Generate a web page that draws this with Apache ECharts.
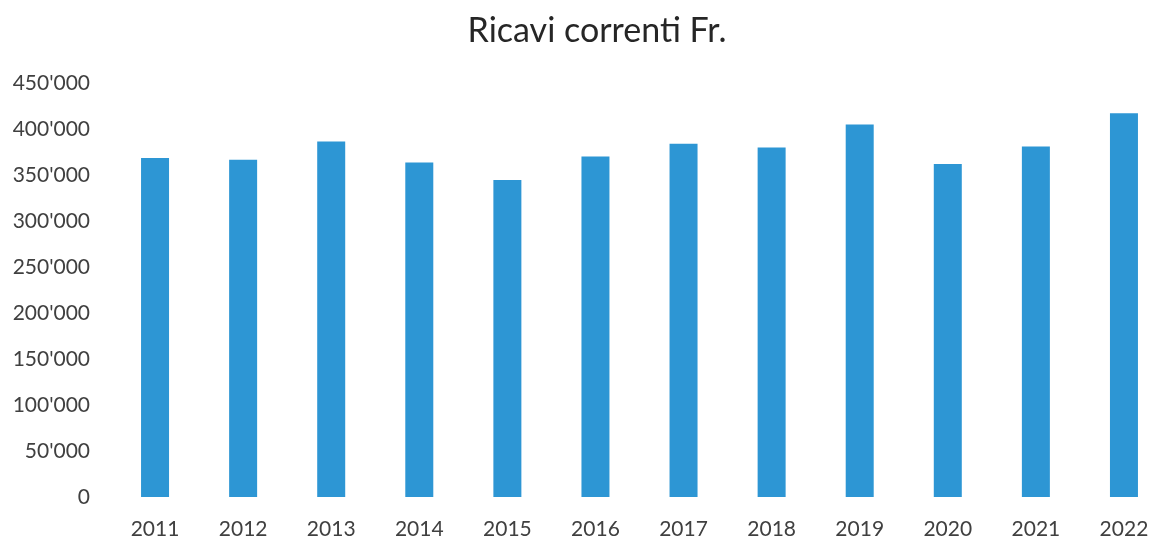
<!DOCTYPE html>
<html>
<head>
<meta charset="utf-8">
<script src="https://cdn.jsdelivr.net/npm/echarts@6/dist/echarts.min.js"></script>
<style>
  html, body { margin: 0; padding: 0; background: #ffffff; width: 1150px; height: 541px; overflow: hidden; }
  /* plot area runs slightly past the right edge of the page, so the last column sits near the border */
  #chart { width: 1168px; height: 541px; }
</style>
</head>
<body>
<div id="chart"></div>
<script>
// Current revenue per year, in Swiss francs
const years = ['2011', '2012', '2013', '2014', '2015', '2016', '2017', '2018', '2019', '2020', '2021', '2022'];
const revenues = [368500, 366500, 386500, 363500, 344500, 370000, 384000, 380000, 405000, 362000, 381000, 417000];
const chartTitle = 'Ricavi correnti Fr.';

// Swiss-style thousands separator: 450'000
function fmtThousands(v) {
  return String(v).replace(/\B(?=(\d{3})+(?!\d))/g, "'");
}

const chart = echarts.init(document.getElementById('chart'));
chart.setOption({
  animation: false,
  backgroundColor: '#ffffff',
  title: {
    text: chartTitle,
    left: 592,
    textAlign: 'center',
    top: 9,
    textStyle: {
      fontFamily: 'Lato',
      fontWeight: 'normal',
      fontSize: 34,
      color: '#262626'
    }
  },
  grid: {
    left: 111,
    right: 0,
    top: 83,
    bottom: 44,
    containLabel: false
  },
  xAxis: {
    type: 'category',
    data: years,
    axisLine: { show: false },
    axisTick: { show: false },
    axisLabel: {
      margin: 22,
      fontFamily: 'Lato',
      fontSize: 21,
      color: '#404040'
    }
  },
  yAxis: {
    type: 'value',
    min: 0,
    max: 450000,
    interval: 50000,
    splitLine: { show: false },
    axisLine: { show: false },
    axisTick: { show: false },
    axisLabel: {
      margin: 21,
      fontFamily: 'Lato',
      fontSize: 21,
      color: '#404040',
      formatter: fmtThousands
    }
  },
  series: [{
    type: 'bar',
    data: revenues,
    barWidth: 28,
    itemStyle: { color: '#2D96D4' }
  }]
});
</script>
</body>
</html>
